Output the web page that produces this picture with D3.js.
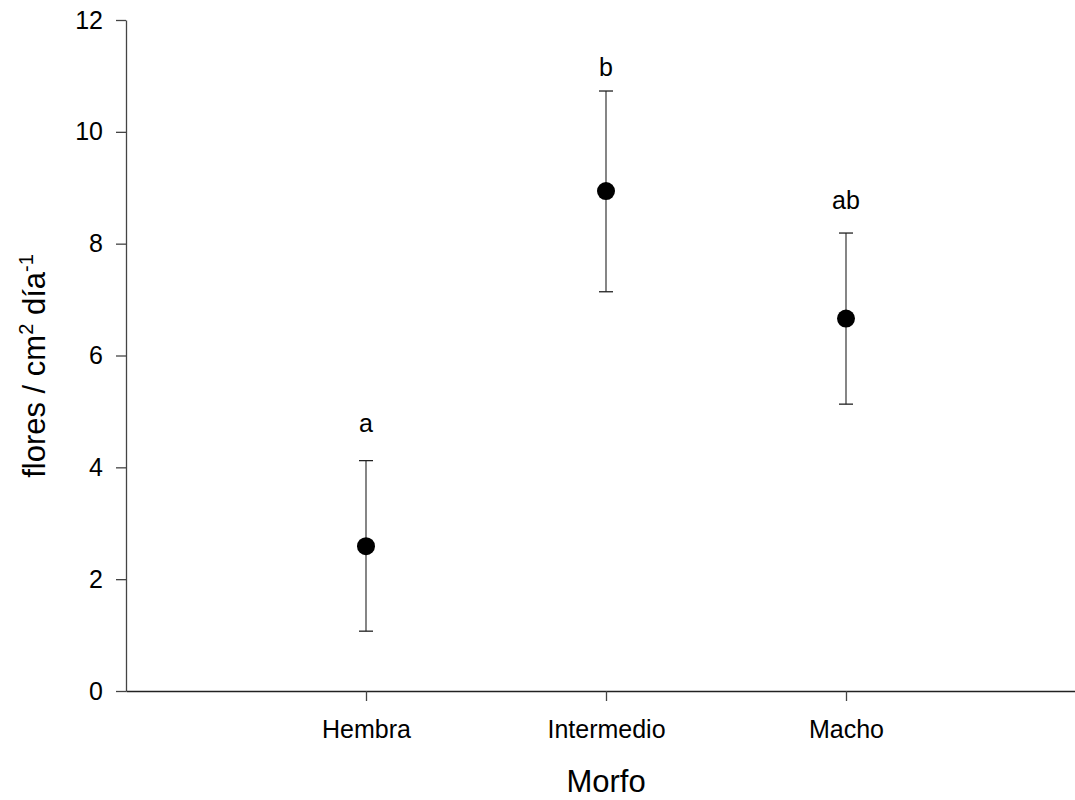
<!DOCTYPE html>
<html>
<head>
<meta charset="utf-8">
<script src="https://cdn.jsdelivr.net/npm/d3@7"></script>
<style>
  body { margin: 0; background: #fff; }
  svg { font-family: "Liberation Sans", Arial, sans-serif; }
</style>
</head>
<body>
<div id="chart"></div>
<script>
// data
var morfos = ["Hembra", "Intermedio", "Macho"];
var medias = [2.59, 8.94, 6.66];
var errInf = [1.07, 7.14, 5.13];
var errSup = [4.12, 10.73, 8.19];
var letras = ["a", "b", "ab"];
var letraY = [4.63, 11.0, 8.62];
var yTicks = [0, 2, 4, 6, 8, 10, 12];

var width = 1075, height = 800;
var margin = {top: 20, left: 126, bottom: 109};
var fam = "Liberation Sans, Arial, sans-serif";

var svg = d3.select("#chart").append("svg")
    .attr("width", width)
    .attr("height", height);

var x = d3.scalePoint()
    .domain(morfos)
    .range([margin.left, margin.left + 960])
    .padding(1);

var y = d3.scaleLinear()
    .domain([0, 12])
    .range([height - margin.bottom, margin.top]);

//y axis
var yAxis = svg.append("g")
    .attr("transform", "translate(" + margin.left + ",0)")
    .call(d3.axisLeft(y).tickValues(yTicks).tickSize(10).tickSizeOuter(0).tickPadding(13));
yAxis.attr("font-size", null).attr("font-family", null);
yAxis.select(".domain").attr("stroke", "#444").attr("stroke-width", 1.3);
yAxis.selectAll(".tick line").attr("stroke", "#444").attr("stroke-width", 1.3);
yAxis.selectAll(".tick text").style("font-size", "25px").attr("fill", "#000")
    .style("font-family", fam);

//x axis
var xAxis = svg.append("g")
    .attr("transform", "translate(0," + y(0) + ")")
    .call(d3.axisBottom(x).tickSize(10).tickSizeOuter(0));
xAxis.attr("font-size", null).attr("font-family", null);
xAxis.select(".domain").attr("stroke", "#222").attr("stroke-width", 1.3);
xAxis.selectAll(".tick line").attr("stroke", "#444").attr("stroke-width", 1.3);
xAxis.selectAll(".tick text").style("font-size", "25px").attr("fill", "#000")
    .style("font-family", fam)
    .attr("dy", null)
    .attr("y", 47);

var rows = morfos.map(function(m, i) {
    return {morfo: m, media: medias[i], lo: errInf[i], hi: errSup[i], letra: letras[i], ly: letraY[i]};
});

var g = svg.append("g");

g.selectAll("line.bar").data(rows).enter().append("line")
    .attr("class", "bar")
    .attr("x1", function(d) { return x(d.morfo); })
    .attr("x2", function(d) { return x(d.morfo); })
    .attr("y1", function(d) { return y(d.lo); })
    .attr("y2", function(d) { return y(d.hi); })
    .attr("stroke", "#444").attr("stroke-width", 1.3);

["lo", "hi"].forEach(function(k) {
    g.selectAll("line.cap" + k).data(rows).enter().append("line")
        .attr("class", "cap" + k)
        .attr("x1", function(d) { return x(d.morfo) - 7; })
        .attr("x2", function(d) { return x(d.morfo) + 7; })
        .attr("y1", function(d) { return y(d[k]); })
        .attr("y2", function(d) { return y(d[k]); })
        .attr("stroke", "#222").attr("stroke-width", 1.3);
});

g.selectAll("circle").data(rows).enter().append("circle")
    .attr("cx", function(d) { return x(d.morfo); })
    .attr("cy", function(d) { return y(d.media); })
    .attr("r", 9)
    .attr("fill", "#000");

g.selectAll("text.letra").data(rows).enter().append("text")
    .attr("class", "letra")
    .attr("x", function(d) { return x(d.morfo); })
    .attr("y", function(d) { return y(d.ly); })
    .attr("text-anchor", "middle")
    .attr("font-size", "25px")
    .text(function(d) { return d.letra; });

//axis titles
svg.append("text")
    .attr("x", x("Intermedio"))
    .attr("y", 792)
    .attr("text-anchor", "middle")
    .attr("font-size", "31px")
    .text("Morfo");

var yt = svg.append("text")
    .attr("transform", "translate(45," + 366 + ") rotate(-90)")
    .attr("text-anchor", "middle")
    .attr("font-size", "31px");
yt.append("tspan").text("flores / cm");
yt.append("tspan").attr("font-size", "20px").attr("dy", -12).text("2");
yt.append("tspan").attr("dy", 12).text(" día");
yt.append("tspan").attr("font-size", "20px").attr("dy", -12).text("-1");
</script>
</body>
</html>
